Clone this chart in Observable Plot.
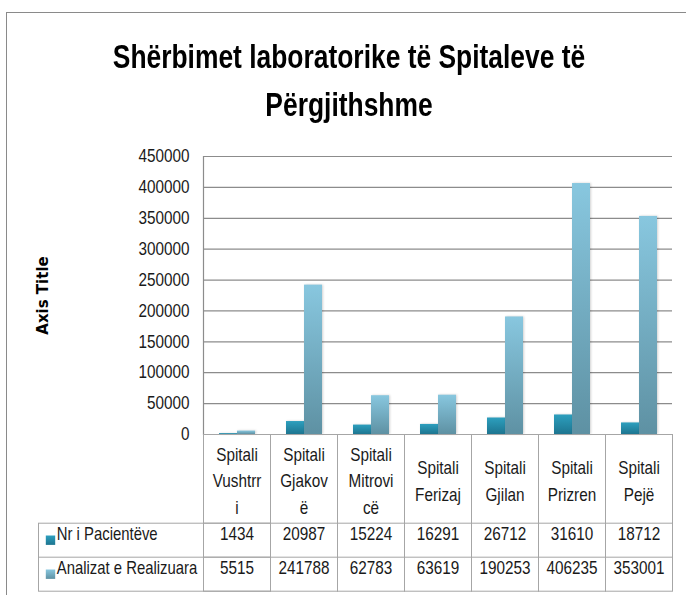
<!DOCTYPE html>
<html>
<head>
<meta charset="utf-8">
<script src="https://cdn.jsdelivr.net/npm/d3@7"></script>
<script src="https://cdn.jsdelivr.net/npm/@observablehq/plot@0.6"></script>
<style>
  html, body { margin: 0; padding: 0; background: #fff; }
  #wrap { position: relative; width: 686px; height: 595px; overflow: hidden; }
  #border { position: absolute; left: 6px; top: 12px; width: 700px; height: 620px;
            border-top: 1.5px solid #8a8a8a; border-left: 1.5px solid #8a8a8a; }
  #title { position: absolute; left: 0; top: 33px; width: 698px; text-align: center;
           font-family: 'Liberation Sans', Arial, sans-serif;
           font-weight: bold; font-size: 33px; line-height: 48px; color: #000;
           transform: scaleX(0.8); transform-origin: 349px 0; white-space: nowrap; }
  #chart { position: absolute; left: 0; top: 0; }
  #chart g[aria-label="bar"] rect { filter: drop-shadow(1.5px 0px 1px rgba(0,0,0,0.18)); }
</style>
</head>
<body>
<div id="wrap">
  <div id="border"></div>
  <div id="chart"></div>
  <div id="title">Shërbimet laboratorike të Spitaleve të<br>Përgjithshme</div>
</div>
<svg width="0" height="0" style="position:absolute;left:0;top:0">
  <defs>
    <linearGradient id="gDark" x1="0" y1="0" x2="0" y2="1">
      <stop offset="0" stop-color="#2d9fbe"/>
      <stop offset="1" stop-color="#1d7590"/>
    </linearGradient>
    <linearGradient id="gLight" x1="0" y1="0" x2="0" y2="1">
      <stop offset="0" stop-color="#88c7df"/>
      <stop offset="1" stop-color="#5e91a3"/>
    </linearGradient>
  </defs>
</svg>
<script>
// ---- data ----
const categories = ["Spitali Vushtrri", "Spitali Gjakovë", "Spitali Mitrovicë", "Spitali Ferizaj", "Spitali Gjilan", "Spitali Prizren", "Spitali Pejë"];
const categoryLabels = ["Spitali\nVushtrr\ni", "Spitali\nGjakov\në", "Spitali\nMitrovi\ncë", "Spitali\nFerizaj", "Spitali\nGjilan", "Spitali\nPrizren", "Spitali\nPejë"];
const seriesNames = ["Nr i Pacientëve", "Analizat e Realizuara"];
const pacientet = [1434, 20987, 15224, 16291, 26712, 31610, 18712];
const analizat = [5515, 241788, 62783, 63619, 190253, 406235, 353001];
const yTicks = [0, 50000, 100000, 150000, 200000, 250000, 300000, 350000, 400000, 450000];
const seriesFills = ["url(#gDark)", "url(#gLight)"];

const seriesValues = [pacientet, analizat];
const rows = [];
categories.forEach((c, i) => seriesNames.forEach((s, j) => rows.push({category: c, series: s, value: seriesValues[j][i]})));

const gridColor = "#8c8c8c";
const tableColor = "#a6a6a6";
const headerH = 88.7, rowH = 34, legendLeft = 165;
const font = "'Liberation Sans', Arial, sans-serif";
const textScaleX = 0.85;

const chart = Plot.plot({
  width: 686,
  height: 595,
  marginTop: 156,
  marginBottom: 161,
  marginLeft: 200,
  marginRight: 12,
  fx: {domain: categories, padding: 0, axis: null, label: null},
  x: {domain: seriesNames, paddingInner: 0, paddingOuter: 0.78, axis: null, label: null},
  y: {domain: [0, 450000], label: null},
  color: {domain: seriesNames, range: seriesFills},
  style: {fontFamily: font, fontSize: "18px", color: "#1a1a1a", background: "transparent", overflow: "visible"},
  marks: [
    Plot.gridY(yTicks, {stroke: gridColor, strokeOpacity: 1, strokeWidth: 1.2}),
    Plot.barY(rows, {fx: "category", x: "series", y: "value", fill: "series"}),
    Plot.axisY(yTicks, {tickSize: 0, tickPadding: 14, fontSize: 18, tickFormat: d => String(d), label: null}),
    Plot.frame({anchor: "left", facetAnchor: "left", stroke: gridColor, strokeWidth: 1.2}),
    // data table grid
    Plot.frame({stroke: tableColor, insetTop: 278, insetBottom: -(headerH + 2 * rowH)}),
    Plot.frame({anchor: "top", stroke: tableColor, insetTop: 278 + headerH}),
    Plot.frame({anchor: "top", stroke: tableColor, insetTop: 278 + headerH + rowH}),
    Plot.frame({facetAnchor: "left", stroke: tableColor, insetLeft: -legendLeft, insetTop: 278 + headerH, insetBottom: -(headerH + 2 * rowH)}),
    Plot.frame({facetAnchor: "left", anchor: "top", stroke: tableColor, insetLeft: -legendLeft, insetTop: 278 + headerH + rowH}),
    // category labels
    Plot.text(categories, {fx: d => d, text: (d, i) => categoryLabels[i], frameAnchor: "bottom", dy: headerH / 2, lineAnchor: "middle", lineHeight: 1.48, fontSize: 18}),
    // values
    ...seriesNames.map((s, j) => Plot.text(categories, {fx: d => d, text: (d, i) => String(seriesValues[j][i]), frameAnchor: "bottom", dy: headerH + rowH * (j + 0.5), fontSize: 18})),
    // legend keys
    ...seriesNames.map((s, j) => Plot.dot([s], {fill: d => d, symbol: "square", r: 5.3, facetAnchor: "left", frameAnchor: "bottom-left", dx: -153, dy: headerH + rowH * (j + 0.5)})),
    ...seriesNames.map((s, j) => Plot.text([s], {text: d => d, facetAnchor: "left", frameAnchor: "bottom-left", textAnchor: "start", dx: -146.7, dy: headerH + rowH * (j + 0.5), fontSize: 17.5})),
    // axis title
    Plot.text(["Axis Title"], {text: d => d, facetAnchor: "left", frameAnchor: "left", textAnchor: "middle", dx: -160, rotate: -90, fontFamily: "'DejaVu Sans', sans-serif", fontWeight: "bold", fontSize: 15, fill: "#000"})
  ]
});

// condense the (Calibri-like) chart texts horizontally around their anchors
chart.querySelectorAll("text").forEach(t => {
  let tr = t.getAttribute("transform") || "";
  if (tr.includes("rotate")) return;
  const x = t.getAttribute("x");
  if (x !== null && /^-?[\d.]+(px)?$/.test(x.trim())) {
    tr += ` translate(${parseFloat(x)},0)`;
    t.removeAttribute("x");
  }
  t.setAttribute("transform", `${tr} scale(${textScaleX},1)`);
});
document.getElementById("chart").appendChild(chart);
</script>
</body>
</html>
